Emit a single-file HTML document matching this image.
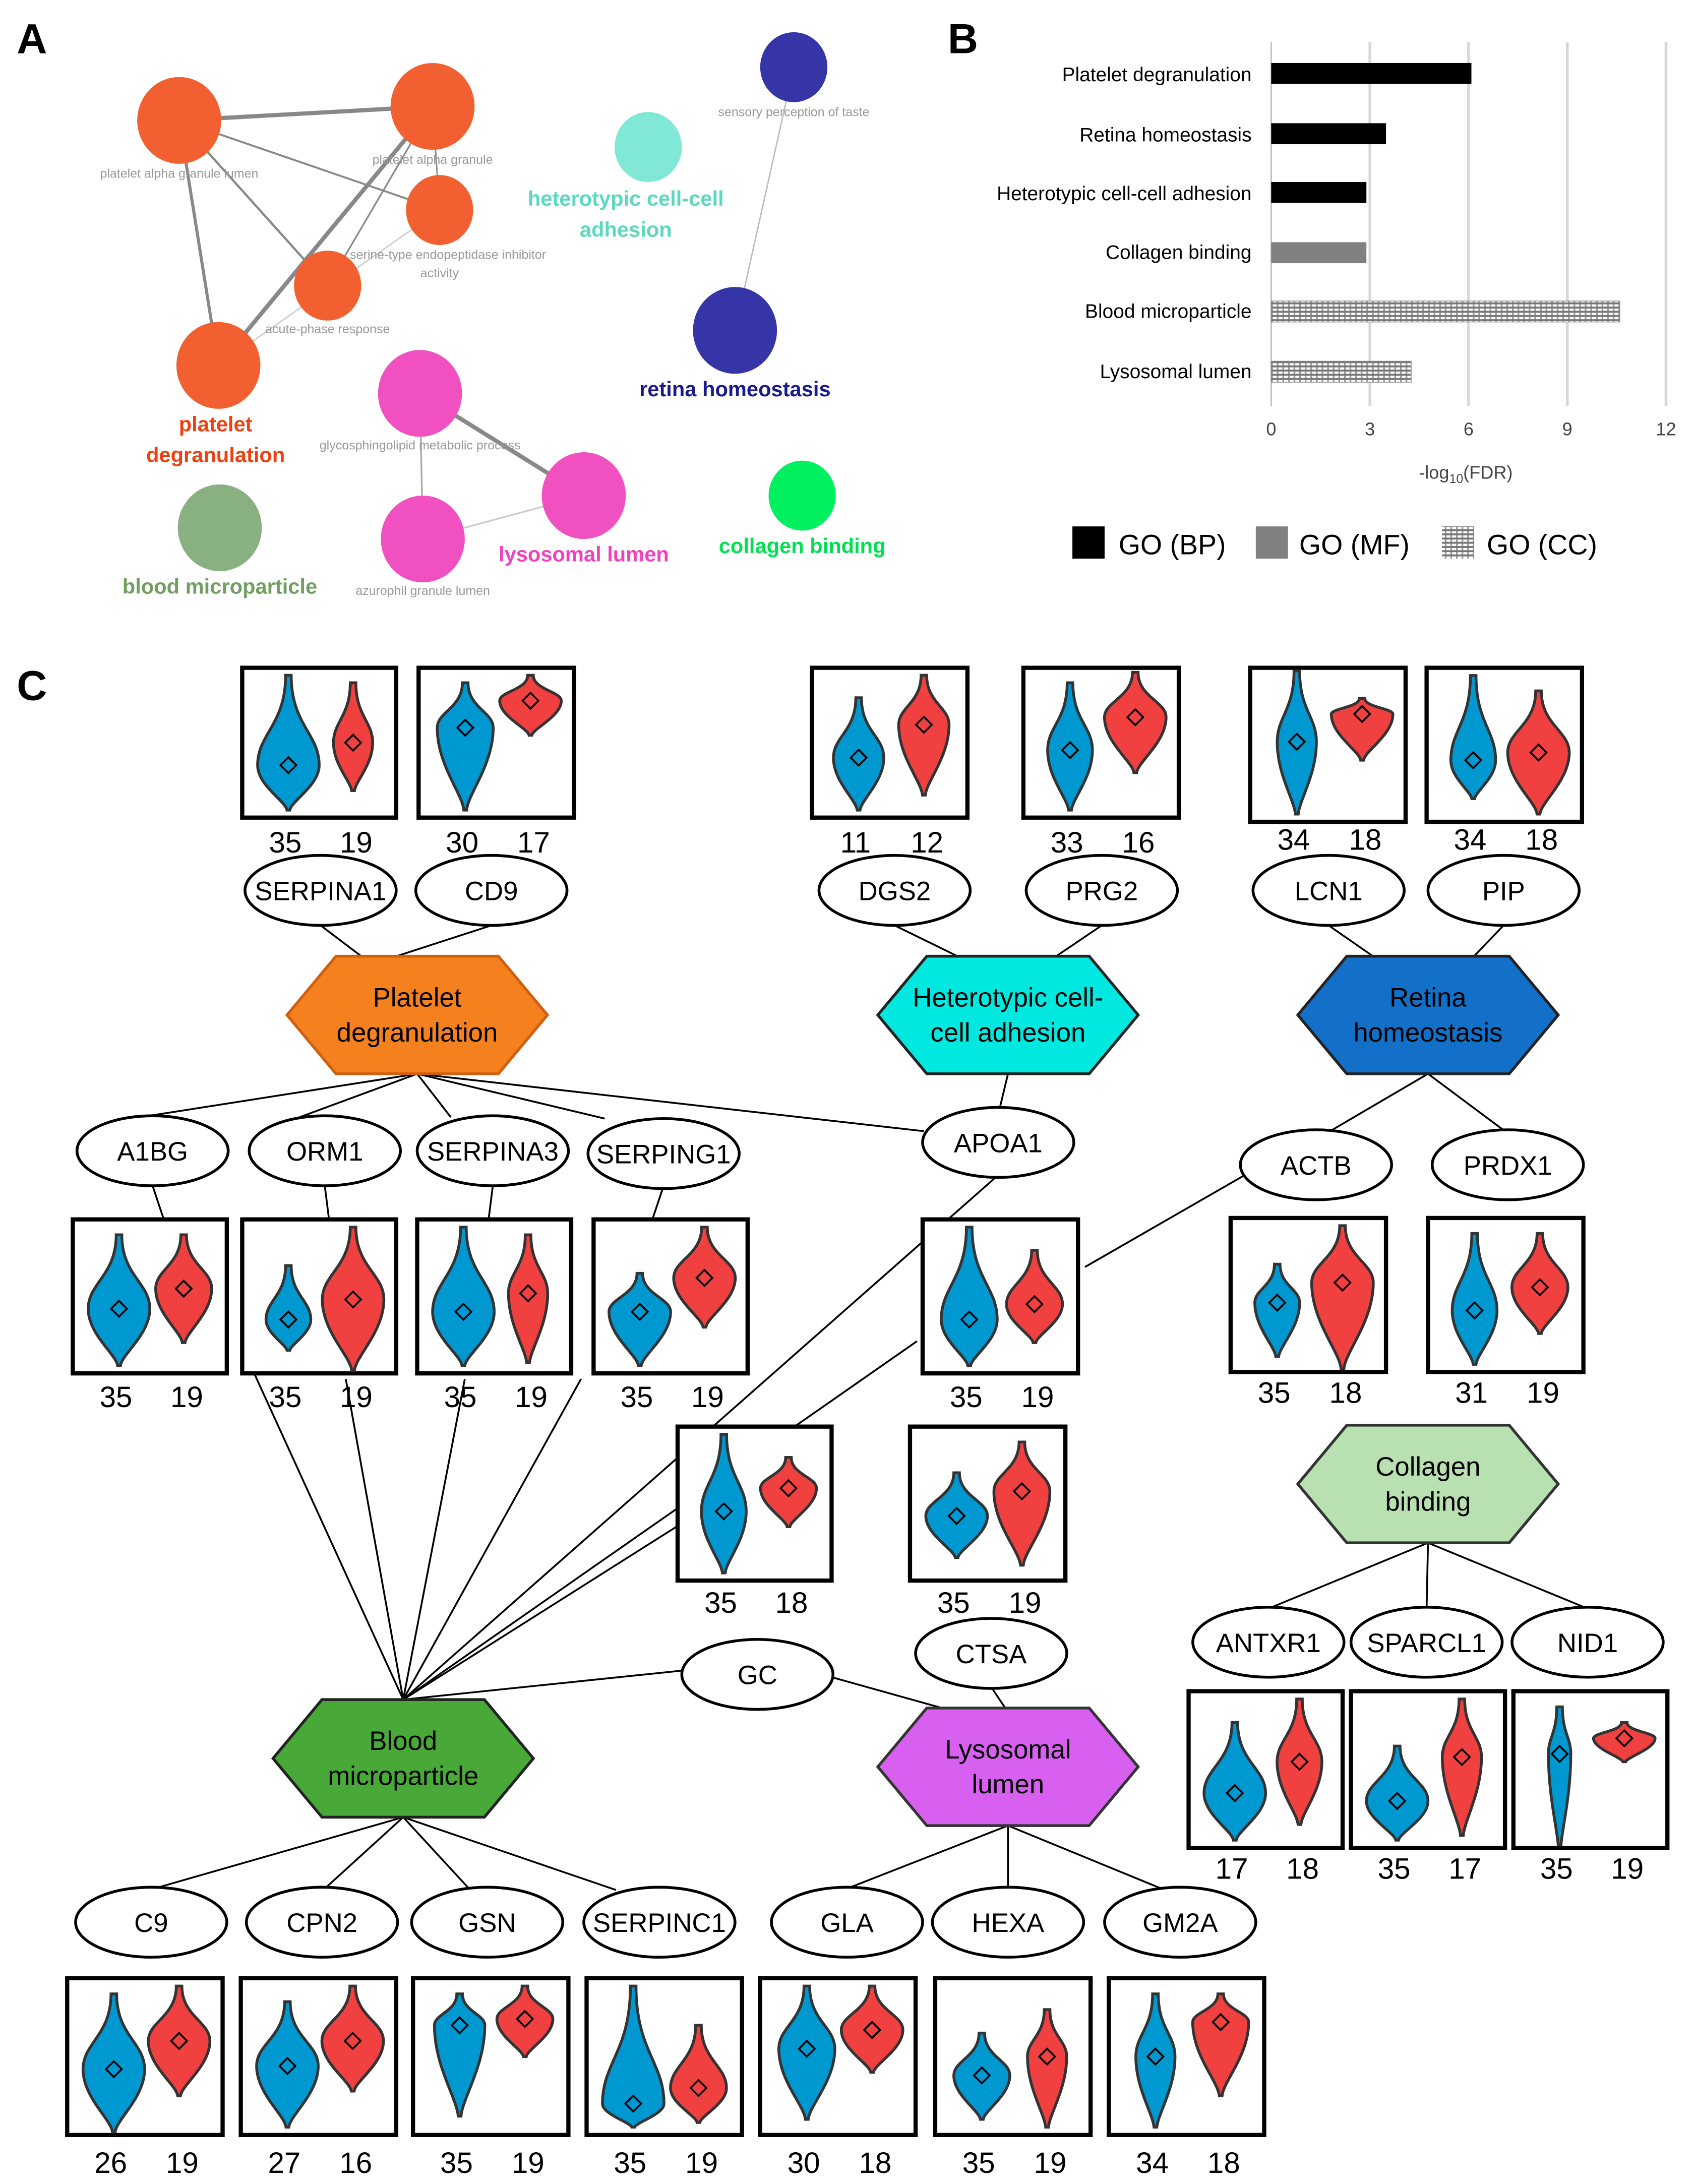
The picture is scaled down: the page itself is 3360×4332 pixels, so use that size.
<!DOCTYPE html>
<html><head><meta charset="utf-8"><style>
html,body{margin:0;padding:0;background:#fff}
svg{display:block;font-family:"Liberation Sans",Arial,sans-serif}
</style></head><body>
<svg id="s" width="3360" height="4332" viewBox="0 0 1210 1560" preserveAspectRatio="none" xmlns="http://www.w3.org/2000/svg">
<defs>
<pattern id="hat" width="4" height="3" patternUnits="userSpaceOnUse">
<rect width="4" height="3" fill="#fff"/><rect width="4" height="1.4" fill="#777"/><rect x="0" y="1.4" width="1.2" height="1.6" fill="#999"/>
</pattern>
</defs>
<rect width="1210" height="1560" fill="#fff"/>
<!-- Panel A -->
<text x="12" y="38" font-size="30" font-weight="bold">A</text>
<g stroke="#888" fill="none">
<line x1="128" y1="86" x2="309" y2="76" stroke-width="3"/>
<line x1="128" y1="86" x2="156" y2="261" stroke-width="2.2"/>
<line x1="128" y1="86" x2="234" y2="204" stroke-width="1.6"/>
<line x1="128" y1="86" x2="314" y2="150" stroke-width="1.4"/>
<line x1="309" y1="76" x2="156" y2="261" stroke-width="3"/>
<line x1="309" y1="76" x2="234" y2="204" stroke-width="1.2"/>
<line x1="309" y1="76" x2="314" y2="150" stroke-width="1"/>
<line x1="314" y1="150" x2="156" y2="261" stroke-width="1" stroke="#ccc"/>
<line x1="567" y1="48" x2="525" y2="236" stroke-width="1" stroke="#bbb"/>
<line x1="300" y1="281" x2="417" y2="354" stroke-width="3"/>
<line x1="300" y1="281" x2="302" y2="385" stroke-width="1.2" stroke="#aaa"/>
<line x1="302" y1="385" x2="417" y2="354" stroke-width="1.2" stroke="#ccc"/>
</g>
<g fill="#f26031">
<ellipse cx="128" cy="86" rx="30" ry="31"/><ellipse cx="309" cy="76" rx="30" ry="31"/>
<ellipse cx="314" cy="150" rx="24" ry="25"/><ellipse cx="234" cy="204" rx="24" ry="25"/>
<ellipse cx="156" cy="261" rx="30" ry="31"/>
</g>
<ellipse cx="463" cy="105" rx="24" ry="25" fill="#80e8d4"/>
<ellipse cx="567" cy="48" rx="24" ry="25" fill="#3535a8"/>
<ellipse cx="525" cy="236" rx="30" ry="31" fill="#3535a8"/>
<g fill="#f050c0"><ellipse cx="300" cy="281" rx="30" ry="31"/><ellipse cx="417" cy="354" rx="30" ry="31"/><ellipse cx="302" cy="385" rx="30" ry="31"/></g>
<ellipse cx="157" cy="377" rx="30" ry="31" fill="#88b080"/>
<ellipse cx="573" cy="354" rx="24" ry="25" fill="#00f060"/>
<g font-size="9" fill="#999" text-anchor="middle">
<text x="128" y="127">platelet alpha granule lumen</text>
<text x="309" y="117">platelet alpha granule</text>
<text x="320" y="185">serine-type endopeptidase inhibitor</text>
<text x="314" y="198">activity</text>
<text x="234" y="238">acute-phase response</text>
<text x="567" y="83">sensory perception of taste</text>
<text x="300" y="321">glycosphingolipid metabolic process</text>
<text x="302" y="425">azurophil granule lumen</text>
</g>
<g font-size="15" font-weight="bold" text-anchor="middle">
<text x="154" y="308" fill="#f04010">platelet</text>
<text x="154" y="330" fill="#f04010">degranulation</text>
<text x="447" y="147" fill="#5dd8c0">heterotypic cell-cell</text>
<text x="447" y="169" fill="#5dd8c0">adhesion</text>
<text x="525" y="283" fill="#1a1a90">retina homeostasis</text>
<text x="417" y="401" fill="#f040c0">lysosomal lumen</text>
<text x="157" y="424" fill="#70a060">blood microparticle</text>
<text x="573" y="395" fill="#00e050">collagen binding</text>
</g>
<!-- Panel B -->
<text x="677" y="38" font-size="30" font-weight="bold">B</text>
<g stroke="#d8d8d8" stroke-width="2">
<line x1="978.5" y1="30" x2="978.5" y2="290"/><line x1="1049" y1="30" x2="1049" y2="290"/>
<line x1="1119.5" y1="30" x2="1119.5" y2="290"/><line x1="1190" y1="30" x2="1190" y2="290"/>
</g>
<line x1="908" y1="30" x2="908" y2="290" stroke="#bbb" stroke-width="1"/>
<rect x="908" y="45" width="143" height="15" fill="#000"/>
<rect x="908" y="88" width="82" height="15" fill="#000"/>
<rect x="908" y="130" width="68" height="15" fill="#000"/>
<rect x="908" y="173" width="68" height="15" fill="#808080"/>
<rect x="908" y="215" width="249" height="15" fill="url(#hat)" stroke="#888" stroke-width="0.5"/>
<rect x="908" y="258" width="100" height="15" fill="url(#hat)" stroke="#888" stroke-width="0.5"/>
<g font-size="14" text-anchor="end">
<text x="894" y="58">Platelet degranulation</text>
<text x="894" y="101">Retina homeostasis</text>
<text x="894" y="143">Heterotypic cell-cell adhesion</text>
<text x="894" y="185">Collagen binding</text>
<text x="894" y="227">Blood microparticle</text>
<text x="894" y="270">Lysosomal lumen</text>
</g>
<g font-size="13" fill="#444" text-anchor="middle">
<text x="908" y="311">0</text><text x="978.5" y="311">3</text><text x="1049" y="311">6</text><text x="1119.5" y="311">9</text><text x="1190" y="311">12</text>
<text x="1047" y="342">-log<tspan font-size="9" dy="3">10</tspan><tspan dy="-3">(FDR)</tspan></text>
</g>
<rect x="766" y="376" width="23" height="23" fill="#000"/>
<rect x="897" y="376" width="23" height="23" fill="#808080"/>
<rect x="1030" y="376" width="23" height="23" fill="url(#hat)"/>
<g font-size="20"><text x="799" y="396">GO (BP)</text><text x="928" y="396">GO (MF)</text><text x="1062" y="396">GO (CC)</text></g>
<!-- Panel C -->
<text x="12" y="500" font-size="30" font-weight="bold">C</text>
<g stroke="#000" stroke-width="1.3" fill="none">
<line x1="229" y1="661" x2="262" y2="686"/><line x1="351" y1="661" x2="274" y2="686"/>
<line x1="639" y1="661" x2="690" y2="686"/><line x1="787" y1="661" x2="750" y2="686"/>
<line x1="949" y1="661" x2="985" y2="686"/><line x1="1074" y1="661" x2="1050" y2="686"/>
<line x1="298" y1="767" x2="100" y2="798"/><line x1="298" y1="767" x2="214" y2="798"/>
<line x1="298" y1="767" x2="322" y2="798"/><line x1="298" y1="767" x2="432" y2="799"/>
<line x1="298" y1="767" x2="660" y2="808"/>
<line x1="109" y1="847" x2="117" y2="871"/><line x1="232" y1="847" x2="235" y2="871"/>
<line x1="352" y1="847" x2="349" y2="871"/><line x1="474" y1="847" x2="466" y2="871"/>
<line x1="720" y1="767" x2="714" y2="792"/>
<line x1="1020" y1="767" x2="950" y2="808"/><line x1="1020" y1="767" x2="1075" y2="808"/>
<line x1="888" y1="840" x2="775" y2="905"/>
<line x1="1020" y1="1102" x2="906" y2="1149"/><line x1="1020" y1="1102" x2="1019" y2="1149"/><line x1="1020" y1="1102" x2="1134" y2="1149"/>
<line x1="288" y1="1214" x2="172" y2="960"/><line x1="288" y1="1214" x2="247" y2="985"/>
<line x1="288" y1="1214" x2="332" y2="985"/><line x1="288" y1="1214" x2="415" y2="985"/>
<line x1="288" y1="1214" x2="710" y2="842"/><line x1="288" y1="1214" x2="655" y2="958"/>
<line x1="288" y1="1214" x2="484" y2="1090"/>
<line x1="288" y1="1214" x2="490" y2="1193"/>
<line x1="594" y1="1198" x2="680" y2="1222"/>
<line x1="708" y1="1205" x2="718" y2="1220"/>
<line x1="288" y1="1298" x2="110" y2="1349"/><line x1="288" y1="1298" x2="232" y2="1349"/>
<line x1="288" y1="1298" x2="335" y2="1349"/><line x1="288" y1="1298" x2="440" y2="1350"/>
<line x1="720" y1="1304" x2="605" y2="1349"/><line x1="720" y1="1304" x2="720" y2="1349"/><line x1="720" y1="1304" x2="832" y2="1350"/>
</g>
<g id="hex"></g>
<g id="ell"></g>
<g id="vio"></g>
</svg>
<script>
var NS="http://www.w3.org/2000/svg";
function el(p,t,a,txt){var e=document.createElementNS(NS,t);for(var k in a)e.setAttribute(k,a[k]);if(txt!==undefined)e.textContent=txt;document.getElementById(p).appendChild(e);return e;}
var hexes=[[298,725,"#f5801e","#d06010",["Platelet","degranulation"]],[720,725,"#00e8e0","#222",["Heterotypic cell-","cell adhesion"]],[1020,725,"#1270c8","#222",["Retina","homeostasis"]],[1020,1060,"#b8e0b0","#333",["Collagen","binding"]],[288,1256,"#48a838","#222",["Blood","microparticle"]],[720,1262,"#d860f0","#333",["Lysosomal","lumen"]]];
hexes.forEach(function(h){var x=h[0],y=h[1];el("hex","polygon",{points:(x-93)+","+y+" "+(x-58)+","+(y-42)+" "+(x+58)+","+(y-42)+" "+(x+93)+","+y+" "+(x+58)+","+(y+42)+" "+(x-58)+","+(y+42),fill:h[2],stroke:h[3],"stroke-width":2});
el("hex","text",{x:x,y:y-6,"font-size":19,"text-anchor":"middle"},h[4][0]);el("hex","text",{x:x,y:y+19,"font-size":19,"text-anchor":"middle"},h[4][1]);});
var ells=[["SERPINA1",229,636],["CD9",351,636],["DGS2",639,636],["PRG2",787,636],["LCN1",949,636],["PIP",1074,636],["A1BG",109,822],["ORM1",232,822],["SERPINA3",352,822],["SERPING1",474,824],["APOA1",713,816],["ACTB",940,832],["PRDX1",1077,832],["GC",541,1196],["CTSA",708,1181],["ANTXR1",906,1173],["SPARCL1",1019,1173],["NID1",1134,1173],["C9",108,1373],["CPN2",230,1373],["GSN",348,1373],["SERPINC1",471,1373],["GLA",605,1373],["HEXA",720,1373],["GM2A",843,1373]];
ells.forEach(function(e){el("ell","ellipse",{cx:e[1],cy:e[2],rx:54,ry:25,fill:"#fff",stroke:"#000","stroke-width":2});el("ell","text",{x:e[1],y:e[2]+7,"font-size":19,"text-anchor":"middle"},e[0]);});
function violin(cx,y0,h,v,col){var t=y0+h*v[0],m=y0+h*v[1],b=y0+h*v[2],w=v[3];
var d="M"+(cx-2)+","+t+" L"+(cx+2)+","+t+" C"+(cx+2)+","+(m-(m-t)*0.45)+" "+(cx+w)+","+(m-(m-t)*0.35)+" "+(cx+w)+","+m+" C"+(cx+w)+","+(m+(b-m)*0.45)+" "+(cx+2)+","+(b-(b-m)*0.2)+" "+(cx+1)+","+b+" L"+(cx-1)+","+b+" C"+(cx-2)+","+(b-(b-m)*0.2)+" "+(cx-w)+","+(m+(b-m)*0.45)+" "+(cx-w)+","+m+" C"+(cx-w)+","+(m-(m-t)*0.35)+" "+(cx-2)+","+(m-(m-t)*0.45)+" "+(cx-2)+","+t+" Z";
el("vio","path",{d:d,fill:col,stroke:"#333","stroke-width":2});
el("vio","rect",{x:cx-4,y:m-4,width:8,height:8,fill:"none",stroke:"#000","stroke-width":1.3,transform:"rotate(45 "+cx+" "+m+")"});}
var boxes=[
[173,477,110,107,[.05,.65,.95,22],[.1,.5,.82,14],"35","19",602],
[299,477,111,107,[.1,.4,.95,20],[.05,.22,.45,22],"30","17",602],
[580,477,111,107,[.2,.6,.95,18],[.05,.38,.85,18],"11","12",602],
[731,477,111,107,[.1,.55,.95,16],[.03,.33,.7,22],"33","16",602],
[893,477,111,110,[.02,.48,.95,14],[.2,.3,.6,22],"34","18",600],
[1019,477,111,110,[.05,.6,.85,16],[.15,.55,.95,22],"34","18",600],
[52,871,110,110,[.1,.58,.95,22],[.1,.45,.8,20],"35","19",998],
[173,871,110,110,[.3,.65,.85,16],[.05,.52,.98,22],"35","19",998],
[298,871,110,110,[.05,.6,.95,22],[.1,.48,.93,14],"35","19",998],
[424,871,110,110,[.35,.6,.95,22],[.05,.38,.7,22],"35","19",998],
[659,871,111,110,[.05,.65,.95,20],[.2,.55,.8,20],"35","19",998],
[879,870,111,110,[.3,.55,.9,16],[.05,.42,.98,22],"35","18",995],
[1020,870,111,110,[.1,.6,.95,16],[.1,.45,.75,20],"31","19",995],
[484,1019,110,110,[.05,.55,.95,16],[.2,.4,.65,20],"35","18",1145],
[650,1019,111,110,[.3,.58,.85,22],[.1,.42,.9,20],"35","19",1145],
[849,1208,110,112,[.2,.65,.95,22],[.05,.45,.85,16],"17","18",1335],
[965,1208,110,112,[.35,.7,.95,22],[.05,.42,.92,14],"35","17",1335],
[1081,1208,110,112,[.1,.4,.98,8],[.2,.3,.45,22],"35","19",1335],
[48,1413,111,112,[.1,.58,.98,22],[.05,.4,.75,22],"26","19",1545],
[172,1413,111,112,[.15,.56,.95,22],[.05,.4,.72,22],"27","16",1545],
[295,1413,111,112,[.1,.3,.88,18],[.05,.26,.5,20],"35","19",1545],
[419,1413,111,112,[.05,.8,.95,22],[.3,.7,.92,20],"35","19",1545],
[543,1413,111,112,[.05,.45,.9,20],[.05,.33,.6,22],"30","18",1545],
[668,1413,111,112,[.35,.62,.9,20],[.2,.5,.95,14],"35","19",1545],
[792,1413,111,112,[.1,.5,.95,14],[.1,.28,.75,20],"34","18",1545]];
boxes.forEach(function(b){var x=b[0],y=b[1],w=b[2],h=b[3];
el("vio","rect",{x:x,y:y,width:w,height:h,fill:"#fff",stroke:"#000","stroke-width":3});
violin(x+w*0.3,y,h,b[4],"#0098d0");violin(x+w*0.72,y,h,b[5],"#f04040");
el("vio","text",{x:x+w*0.28,y:b[8]+7,"font-size":21,"text-anchor":"middle"},b[6]);
el("vio","text",{x:x+w*0.74,y:b[8]+7,"font-size":21,"text-anchor":"middle"},b[7]);});
</script>
</body></html>
